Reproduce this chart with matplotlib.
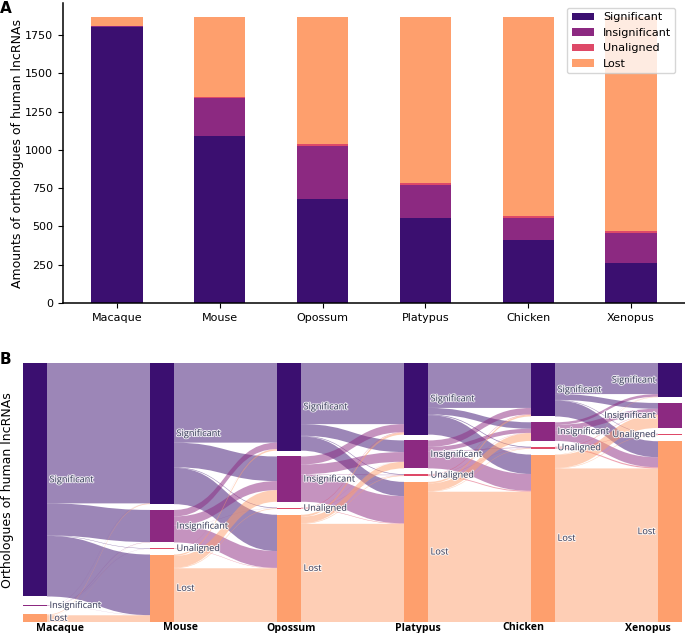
import numpy as np
import matplotlib
matplotlib.use("Agg")
import matplotlib.pyplot as plt
from matplotlib.path import Path
from matplotlib.patches import PathPatch, Rectangle
import matplotlib.patheffects as pe
from matplotlib.colors import to_rgba

# ---------------- data ----------------
species = ["Macaque", "Mouse", "Opossum", "Platypus", "Chicken", "Xenopus"]
categories = ["Significant", "Insignificant", "Unaligned", "Lost"]
colors = ["#3b0f70", "#8c2981", "#de4968", "#fe9f6d"]

# panel A: stacked counts
significant = [1803, 1090, 677, 553, 411, 263]
insignificant = [5, 251, 350, 216, 144, 196]
unaligned = [3, 4, 11, 15, 15, 13]
lost = [55, 521, 828, 1082, 1296, 1394]
yticks = [0, 250, 500, 750, 1000, 1250, 1500, 1750]

# panel B: flows between consecutive species (rows: source category, cols: target category)
macaque_mouse = [[1084, 248, 3, 468],
                 [1, 2, 1, 1],
                 [0, 0, 0, 0],
                 [5, 1, 0, 52]]
mouse_opossum = [[615, 190, 5, 280],
                 [50, 70, 1, 130],
                 [1, 0, 0, 3],
                 [11, 90, 5, 415]]
opossum_platypus = [[472, 90, 5, 110],
                    [62, 75, 3, 210],
                    [4, 1, 2, 4],
                    [15, 50, 5, 758]]
platypus_chicken = [[347, 50, 6, 150],
                    [50, 32, 4, 130],
                    [4, 2, 2, 7],
                    [12, 60, 4, 1006]]
chicken_xenopus = [[240, 45, 4, 124],
                   [20, 45, 2, 77],
                   [1, 3, 3, 9],
                   [3, 100, 4, 1186]]
flows = [macaque_mouse, mouse_opossum, opossum_platypus, platypus_chicken, chicken_xenopus]

# ---------------- figure ----------------
W, H = 685, 633
fig = plt.figure(figsize=(W / 100, H / 100), dpi=100)

# ---- panel A ----
axA = fig.add_axes([63 / W, 1 - 303 / H, (W - 63) / W, 300 / H])
x = np.arange(len(species))
bottom = np.zeros(len(species))
for name, vals, col in zip(categories, [significant, insignificant, unaligned, lost], colors):
    axA.bar(x, vals, width=0.5, bottom=bottom, color=col, label=name, linewidth=0)
    bottom += np.array(vals)
axA.set_xticks(x)
axA.set_xticklabels(species, fontsize=8)
axA.set_yticks(yticks)
axA.tick_params(axis="y", labelsize=8)
axA.set_ylabel("Amounts of orthologues of human lncRNAs", fontsize=9, labelpad=1)
for s in ["top", "right"]:
    axA.spines[s].set_visible(False)
axA.spines["left"].set_linewidth(1.1)
axA.spines["bottom"].set_linewidth(1.1)
axA.legend(loc="upper right", fontsize=8, bbox_to_anchor=(0.99, 0.995), framealpha=0.8,
           handlelength=2.0, borderaxespad=0.3)
fig.text(0.0, 1 - 1 / H, "A", fontsize=11, fontweight="bold", va="top", ha="left")

# ---- panel B (sankey) ----
col_step = 127.0
node_w = 24.0 / col_step
height_units = 2000.0
axB = fig.add_axes([23 / W, 1 - 622 / H, 659 / W, 259 / H])
axB.set_xlim(0, len(species) - 1 + node_w)
axB.set_ylim(height_units, 0)
axB.axis("off")

# node values per column
node_vals = []
first = np.array(flows[0]).sum(axis=1)
node_vals.append(first)
for f in flows:
    node_vals.append(np.array(f).sum(axis=0))

# node layout
node_top = []
for vals in node_vals:
    present = [k for k in range(4) if vals[k] > 0]
    pad = (height_units - vals.sum()) / (len(present) - 1)
    tops = np.full(4, np.nan)
    y = 0.0
    for k in present:
        tops[k] = y
        y += vals[k] + pad
    node_top.append(tops)


def link_patch(x0, x1, s0, s1, t0, t1, color):
    xm = (x0 + x1) / 2
    verts = [(x0, s0), (xm, s0), (xm, t0), (x1, t0),
             (x1, t1), (xm, t1), (xm, s1), (x0, s1), (x0, s0)]
    codes = [Path.MOVETO, Path.CURVE4, Path.CURVE4, Path.CURVE4,
             Path.LINETO, Path.CURVE4, Path.CURVE4, Path.CURVE4, Path.CLOSEPOLY]
    return PathPatch(Path(verts, codes), facecolor=to_rgba(color, 0.5), edgecolor="none")


for c, f in enumerate(flows):
    f = np.array(f, dtype=float)
    out_off = node_top[c].copy()
    in_start = node_top[c + 1].copy()
    in_pos = np.zeros((4, 4))
    for j in range(4):
        y = in_start[j]
        for k in range(4):
            in_pos[k, j] = y
            if f[k, j] > 0:
                y += f[k, j]
    x0 = c + node_w
    x1 = c + 1
    for k in range(4):
        y = out_off[k]
        for j in range(4):
            v = f[k, j]
            if v <= 0:
                continue
            axB.add_patch(link_patch(x0, x1, y, y + v, in_pos[k, j], in_pos[k, j] + v, colors[k]))
            y += v

label_fx = [pe.withStroke(linewidth=1.4, foreground="white", alpha=0.8)]
for c, vals in enumerate(node_vals):
    for k in range(4):
        if vals[k] <= 0:
            continue
        top = node_top[c][k]
        axB.add_patch(Rectangle((c, top), node_w, vals[k], facecolor=colors[k],
                                edgecolor="none", zorder=3))
        yc = top + vals[k] / 2
        if c < len(node_vals) - 1:
            axB.text(c + node_w + 0.02, yc, categories[k], ha="left", va="center",
                     fontsize=6.6, family=["Open Sans", "DejaVu Sans"], color="#3b3f5c",
                     path_effects=label_fx, zorder=4)
        else:
            axB.text(c - 0.02, yc, categories[k], ha="right", va="center",
                     fontsize=6.6, family=["Open Sans", "DejaVu Sans"], color="#3b3f5c",
                     path_effects=label_fx, zorder=4)

species_label_x = [60, 181, 291, 418, 523, 648]
for name, sx in zip(species, species_label_x):
    fig.text(sx / W, 1 - 628 / H, name, ha="center", va="center", fontsize=7.6,
             fontweight="bold", family=["Open Sans", "DejaVu Sans"])

fig.text(0.0, 1 - 352 / H, "B", fontsize=11, fontweight="bold", va="top", ha="left")
fig.text(8 / W, 1 - 490 / H, "Orthologues of human lncRNAs", rotation=90, fontsize=9,
         ha="center", va="center")

fig.savefig("out.png", dpi=100)
